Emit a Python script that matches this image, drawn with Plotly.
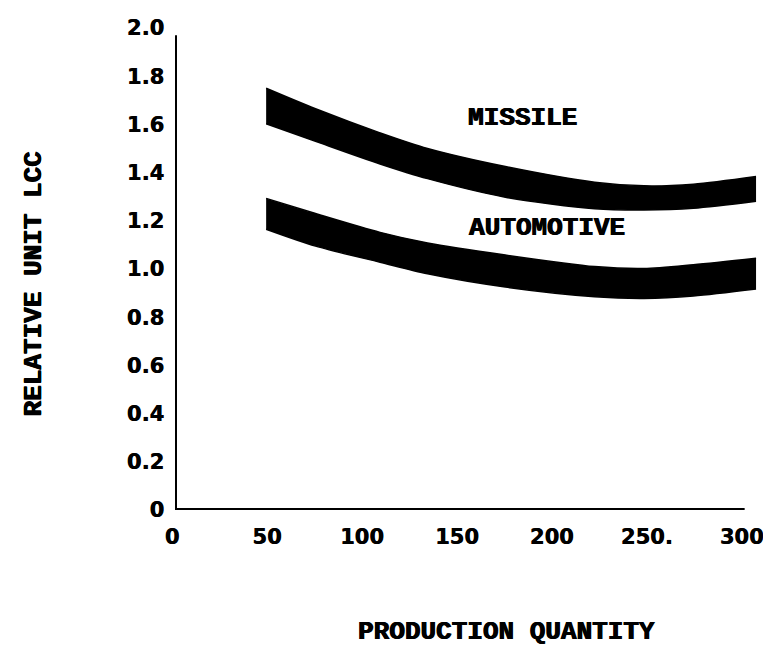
import plotly.graph_objects as go

# ---- data ----
quantity = [48, 74, 108, 133, 174, 221, 247, 273, 306]
missile_upper = [1.75, 1.665, 1.565, 1.500, 1.425, 1.360, 1.345, 1.352, 1.384]
missile_lower = [1.603, 1.530, 1.436, 1.375, 1.298, 1.250, 1.245, 1.252, 1.281]
auto_upper = [1.293, 1.230, 1.152, 1.108, 1.058, 1.010, 1.002, 1.018, 1.045]
auto_lower = [1.165, 1.095, 1.028, 0.980, 0.925, 0.885, 0.878, 0.888, 0.917]

x_ticks = [0, 50, 100, 150, 200, 250, 300]
x_ticktext = ["0", "50", "100", "150", "200", "250.", "300"]
y_ticks = [0, 0.2, 0.4, 0.6, 0.8, 1.0, 1.2, 1.4, 1.6, 1.8, 2.0]
y_ticktext = ["0", "0.2", "0.4", "0.6", "0.8", "1.0", "1.2", "1.4", "1.6", "1.8", "2.0"]

band_labels = ["MISSILE", "AUTOMOTIVE"]
band_label_pos = [(183, 1.625), (196, 1.17)]

x_title = "PRODUCTION QUANTITY"
y_title = "RELATIVE UNIT LCC"

HEAVY = "0.7px 0 0 black, -0.4px 0 0 black"
TYPE_FONT = dict(family="Liberation Mono, DejaVu Sans Mono, monospace", size=26,
                 color="black", weight="bold", shadow=HEAVY)
TICK_FONT = dict(family="DejaVu Sans, sans-serif", size=21, color="black",
                 weight="bold", shadow="0.5px 0 0 black")

fig = go.Figure()

for upper, lower, name in [(missile_upper, missile_lower, "Missile"),
                           (auto_upper, auto_lower, "Automotive")]:
    fig.add_trace(go.Scatter(
        x=quantity, y=lower, mode="lines",
        line=dict(color="black", width=1.5, shape="spline", smoothing=0.8),
        name=name + " low", hoverinfo="skip", showlegend=False,
    ))
    fig.add_trace(go.Scatter(
        x=quantity, y=upper, mode="lines", fill="tonexty", fillcolor="black",
        line=dict(color="black", width=1.5, shape="spline", smoothing=0.8),
        name=name, hoverinfo="skip", showlegend=False,
    ))

# axis lines
fig.add_shape(type="line", xref="x", yref="y", x0=0, x1=300, y0=0, y1=0,
              line=dict(color="black", width=4))
fig.add_shape(type="line", xref="x", yref="y", x0=0, x1=0, y0=0, y1=1.97,
              line=dict(color="black", width=4))

for txt, (xv, yv) in zip(band_labels, band_label_pos):
    fig.add_annotation(x=xv, y=yv, xref="x", yref="y", text=txt, showarrow=False,
                       font=TYPE_FONT, xanchor="center", yanchor="middle")

fig.add_annotation(x=0.570, y=-0.254, xref="paper", yref="paper", text=x_title,
                   showarrow=False, font=TYPE_FONT, xanchor="center", yanchor="middle")
fig.add_annotation(x=-0.243, y=0.469, xref="paper", yref="paper", text=y_title,
                   showarrow=False, font=TYPE_FONT, textangle=-90,
                   xanchor="center", yanchor="middle")

fig.update_xaxes(range=[0, 306.5], tickvals=x_ticks, ticktext=x_ticktext,
                 showgrid=False, zeroline=False, showline=False,
                 tickfont=TICK_FONT, ticklabelstandoff=12, ticks="",
                 ticklabeloverflow="allow", ticklabelshift=-3)
fig.update_yaxes(range=[0, 2.0], tickvals=y_ticks, ticktext=y_ticktext,
                 showgrid=False, zeroline=False, showline=False,
                 tickfont=TICK_FONT, ticklabelstandoff=10, ticks="")

# page body has an 8px margin, so the figure is 8px smaller and offsets shifted
fig.update_layout(
    width=763, height=641, autosize=False,
    margin=dict(l=167, r=8, t=18, b=139),
    plot_bgcolor="white", paper_bgcolor="white",
    showlegend=False,
)

fig.write_html("out.html")
